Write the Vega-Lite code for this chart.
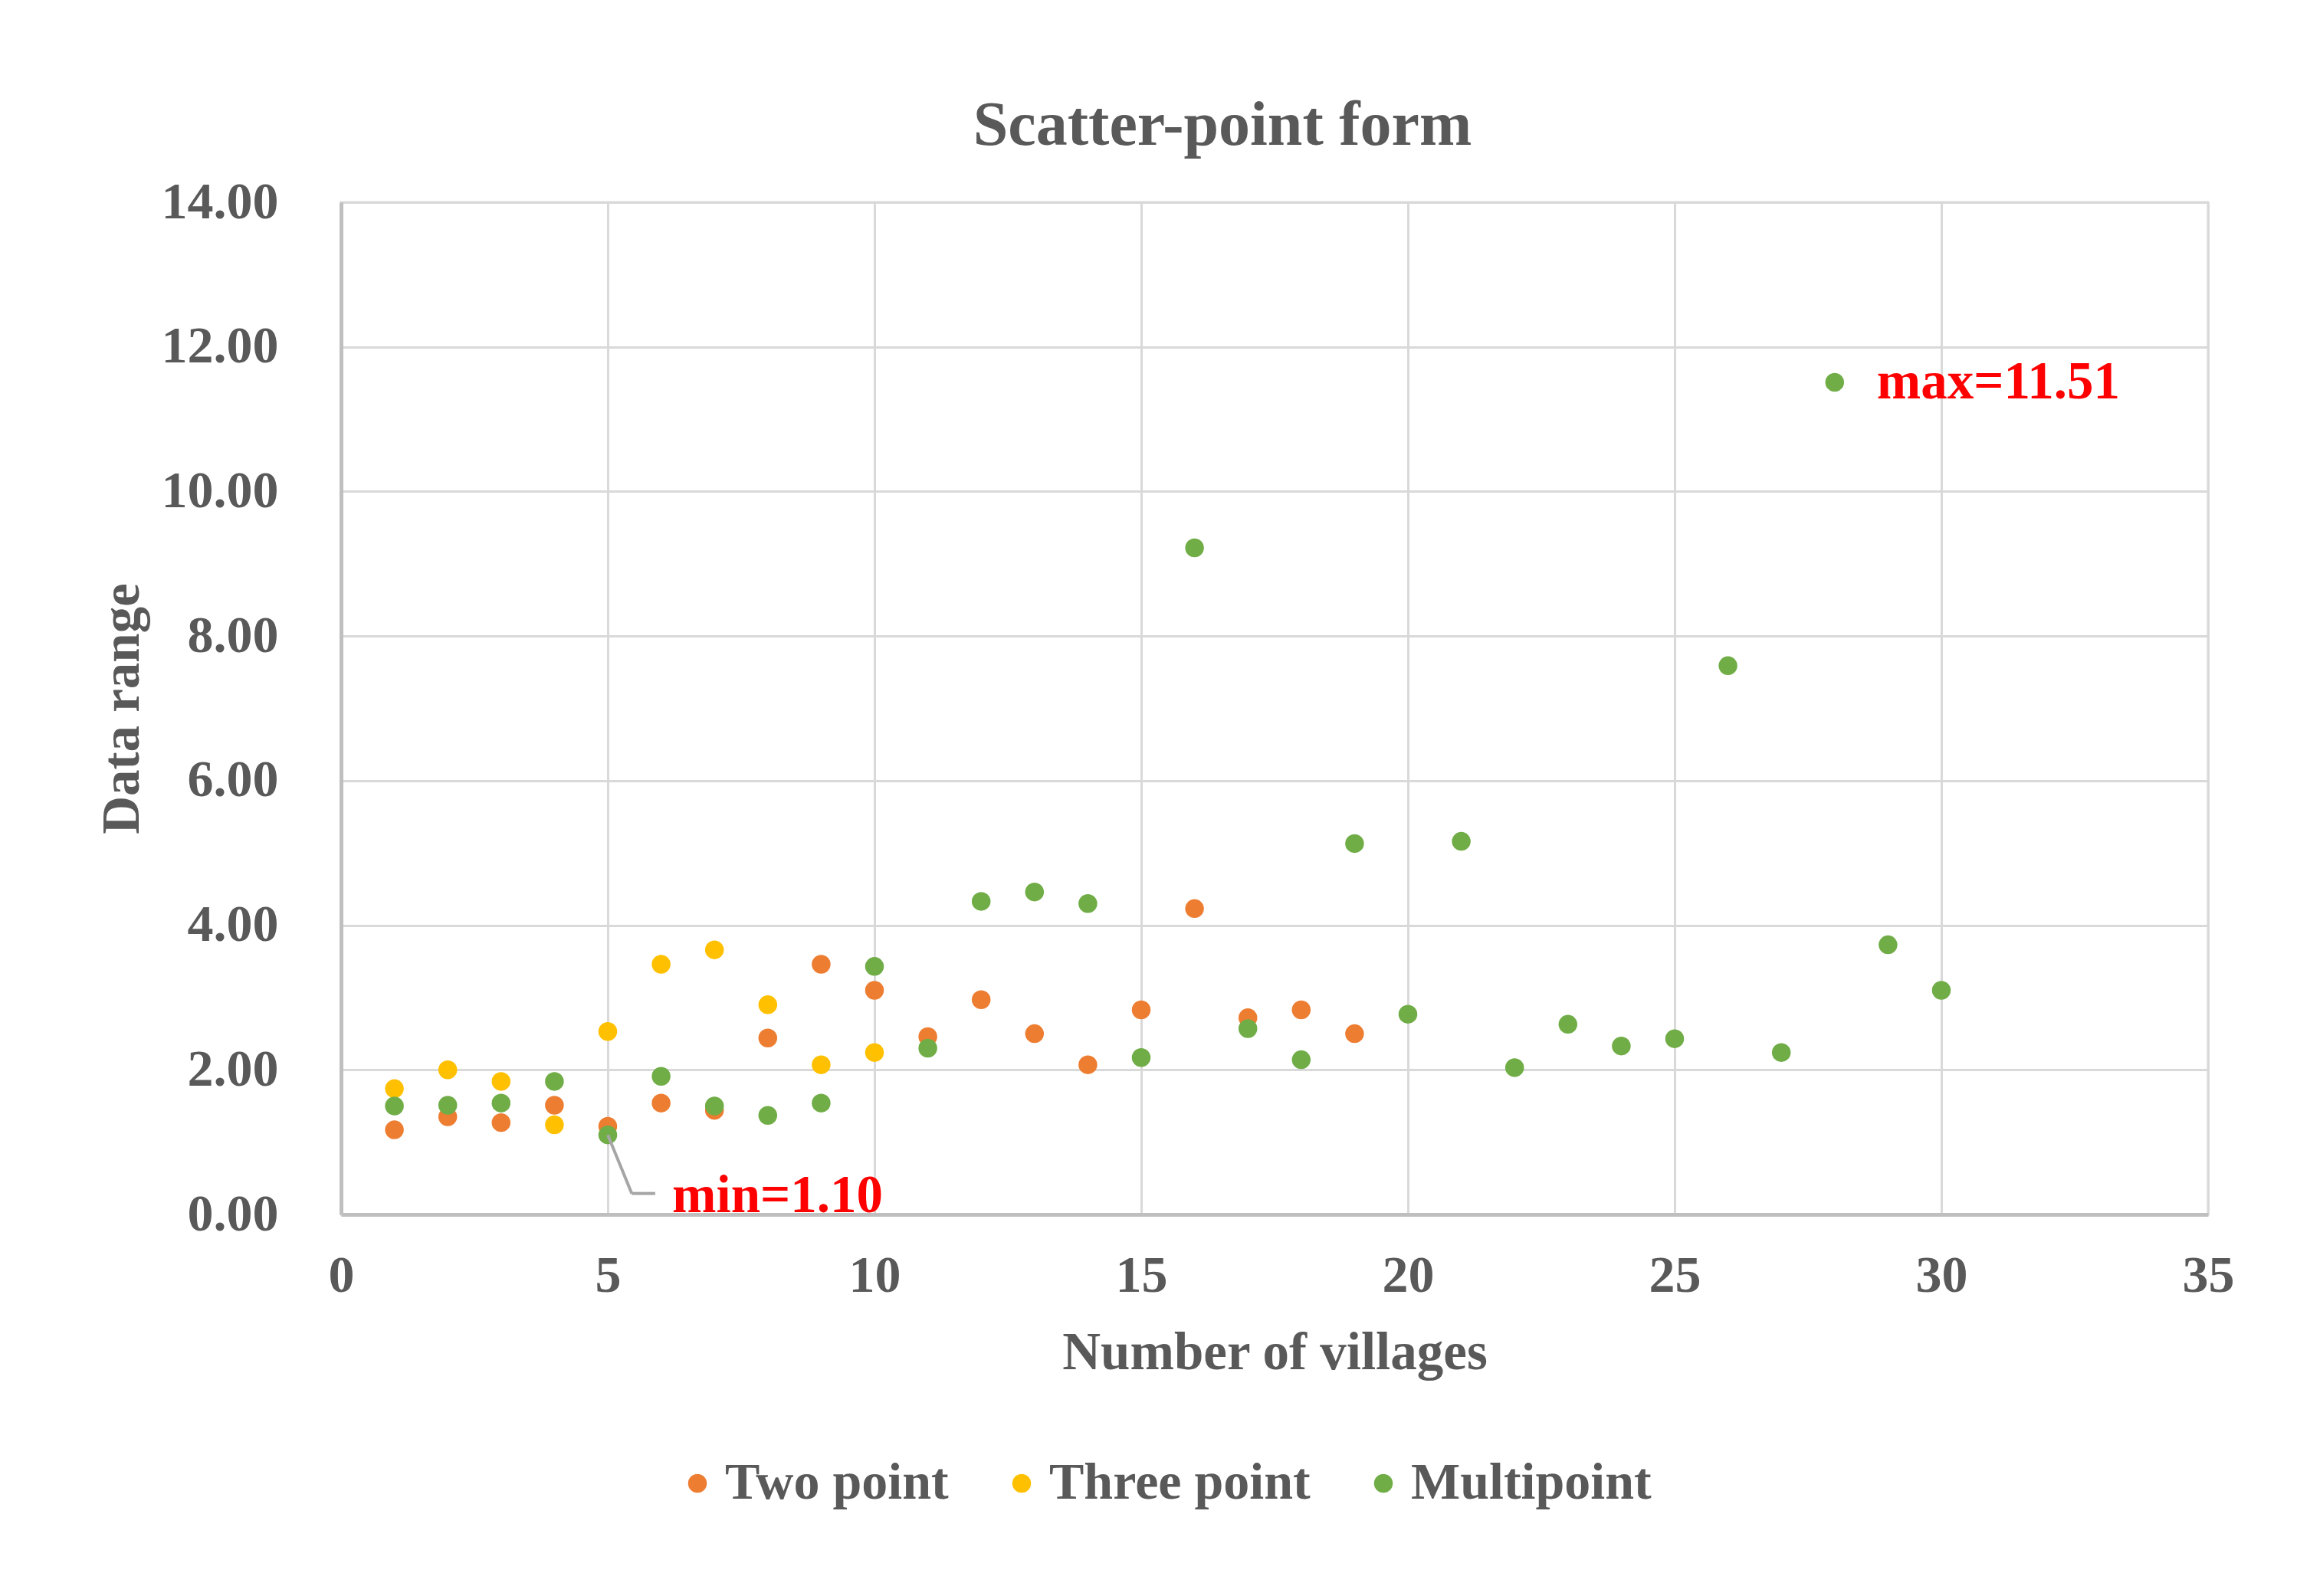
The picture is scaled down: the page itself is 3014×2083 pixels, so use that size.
{
  "$schema": "https://vega.github.io/schema/vega-lite/v6.json",
  "width": 2436,
  "height": 1321,
  "autosize": {"type": "none"},
  "padding": {"left": 445, "top": 264, "right": 133, "bottom": 498},
  "background": "white",
  "title": {
    "text": "Scatter-point form",
    "font": "Liberation Serif",
    "fontWeight": "bold",
    "fontSize": 82,
    "color": "#595959",
    "anchor": "middle",
    "frame": "group",
    "dx": -68,
    "baseline": "alphabetic",
    "offset": -41
  },
  "config": {
    "view": {"stroke": "#d9d9d9", "strokeWidth": 3},
    "font": "Liberation Serif"
  },
  "data": {
    "values": [
      {"villages": 1, "range": 1.17, "series": "Two point"},
      {"villages": 2, "range": 1.35, "series": "Two point"},
      {"villages": 3, "range": 1.27, "series": "Two point"},
      {"villages": 4, "range": 1.51, "series": "Two point"},
      {"villages": 5, "range": 1.22, "series": "Two point"},
      {"villages": 6, "range": 1.54, "series": "Two point"},
      {"villages": 7, "range": 1.44, "series": "Two point"},
      {"villages": 8, "range": 2.44, "series": "Two point"},
      {"villages": 9, "range": 3.46, "series": "Two point"},
      {"villages": 10, "range": 3.10, "series": "Two point"},
      {"villages": 11, "range": 2.46, "series": "Two point"},
      {"villages": 12, "range": 2.97, "series": "Two point"},
      {"villages": 13, "range": 2.50, "series": "Two point"},
      {"villages": 14, "range": 2.07, "series": "Two point"},
      {"villages": 15, "range": 2.83, "series": "Two point"},
      {"villages": 16, "range": 4.23, "series": "Two point"},
      {"villages": 17, "range": 2.72, "series": "Two point"},
      {"villages": 18, "range": 2.83, "series": "Two point"},
      {"villages": 19, "range": 2.50, "series": "Two point"},
      {"villages": 1, "range": 1.74, "series": "Three point"},
      {"villages": 2, "range": 2.00, "series": "Three point"},
      {"villages": 3, "range": 1.84, "series": "Three point"},
      {"villages": 4, "range": 1.24, "series": "Three point"},
      {"villages": 5, "range": 2.53, "series": "Three point"},
      {"villages": 6, "range": 3.46, "series": "Three point"},
      {"villages": 7, "range": 3.66, "series": "Three point"},
      {"villages": 8, "range": 2.90, "series": "Three point"},
      {"villages": 9, "range": 2.07, "series": "Three point"},
      {"villages": 10, "range": 2.24, "series": "Three point"},
      {"villages": 1, "range": 1.50, "series": "Multipoint"},
      {"villages": 2, "range": 1.51, "series": "Multipoint"},
      {"villages": 3, "range": 1.54, "series": "Multipoint"},
      {"villages": 4, "range": 1.84, "series": "Multipoint"},
      {"villages": 5, "range": 1.10, "series": "Multipoint"},
      {"villages": 6, "range": 1.91, "series": "Multipoint"},
      {"villages": 7, "range": 1.50, "series": "Multipoint"},
      {"villages": 8, "range": 1.37, "series": "Multipoint"},
      {"villages": 9, "range": 1.54, "series": "Multipoint"},
      {"villages": 10, "range": 3.43, "series": "Multipoint"},
      {"villages": 11, "range": 2.30, "series": "Multipoint"},
      {"villages": 12, "range": 4.33, "series": "Multipoint"},
      {"villages": 13, "range": 4.46, "series": "Multipoint"},
      {"villages": 14, "range": 4.30, "series": "Multipoint"},
      {"villages": 15, "range": 2.17, "series": "Multipoint"},
      {"villages": 16, "range": 9.22, "series": "Multipoint"},
      {"villages": 17, "range": 2.57, "series": "Multipoint"},
      {"villages": 18, "range": 2.14, "series": "Multipoint"},
      {"villages": 19, "range": 5.13, "series": "Multipoint"},
      {"villages": 20, "range": 2.77, "series": "Multipoint"},
      {"villages": 21, "range": 5.16, "series": "Multipoint"},
      {"villages": 22, "range": 2.03, "series": "Multipoint"},
      {"villages": 23, "range": 2.63, "series": "Multipoint"},
      {"villages": 24, "range": 2.33, "series": "Multipoint"},
      {"villages": 25, "range": 2.43, "series": "Multipoint"},
      {"villages": 26, "range": 7.59, "series": "Multipoint"},
      {"villages": 27, "range": 2.24, "series": "Multipoint"},
      {"villages": 28, "range": 11.51, "series": "Multipoint"},
      {"villages": 29, "range": 3.73, "series": "Multipoint"},
      {"villages": 30, "range": 3.10, "series": "Multipoint"}
    ]
  },
  "layer": [
    {
      "mark": {"type": "circle", "size": 600, "opacity": 1},
      "encoding": {
        "x": {
          "field": "villages",
          "type": "quantitative",
          "scale": {"domain": [0, 35], "nice": false, "zero": false},
          "axis": {
            "title": "Number of villages",
            "values": [0, 5, 10, 15, 20, 25, 30, 35],
            "format": "d",
            "grid": true,
            "gridColor": "#d9d9d9",
            "gridWidth": 3,
            "domainColor": "#bfbfbf",
            "domainWidth": 5,
            "ticks": false,
            "labelPadding": 46,
            "labelFont": "Liberation Serif",
            "labelFontWeight": "bold",
            "labelFontSize": 68,
            "labelColor": "#595959",
            "labelFlush": false,
            "labelOverlap": false,
            "titleFont": "Liberation Serif",
            "titleFontWeight": "bold",
            "titleFontSize": 69,
            "titleColor": "#595959",
            "titlePadding": 32
          }
        },
        "y": {
          "field": "range",
          "type": "quantitative",
          "scale": {"domain": [0, 14], "nice": false},
          "axis": {
            "title": "Data range",
            "values": [0, 2, 4, 6, 8, 10, 12, 14],
            "format": ".2f",
            "grid": true,
            "gridColor": "#d9d9d9",
            "gridWidth": 3,
            "domainColor": "#bfbfbf",
            "domainWidth": 5,
            "ticks": false,
            "labelPadding": 82,
            "labelFont": "Liberation Serif",
            "labelFontWeight": "bold",
            "labelFontSize": 68,
            "labelColor": "#595959",
            "labelFlush": false,
            "labelOverlap": false,
            "titleFont": "Liberation Serif",
            "titleFontWeight": "bold",
            "titleFontSize": 69,
            "titleColor": "#595959",
            "titlePadding": 51
          }
        },
        "color": {
          "field": "series",
          "type": "nominal",
          "sort": ["Two point", "Three point", "Multipoint"],
          "scale": {
            "domain": ["Two point", "Three point", "Multipoint"],
            "range": ["#ED7D31", "#FFC000", "#70AD47"]
          },
          "legend": {
            "title": null,
            "orient": "none",
            "direction": "horizontal",
            "legendX": 431,
            "legendY": 1638,
            "padding": 0,
            "symbolType": "circle",
            "symbolSize": 600,
            "symbolStrokeWidth": 0,
            "labelFont": "Liberation Serif",
            "labelFontWeight": "bold",
            "labelFontSize": 68,
            "labelColor": "#595959",
            "labelOffset": 2,
            "columnPadding": 61,
            "labelLimit": 1000
          }
        }
      }
    },
    {
      "data": {"values": [{}]},
      "mark": {"type": "rule", "color": "#a6a6a6", "strokeWidth": 4},
      "encoding": {
        "x": {"datum": 5},
        "y": {"datum": 1.10},
        "x2": {"datum": 5.45},
        "y2": {"datum": 0.29}
      }
    },
    {
      "data": {"values": [{}]},
      "mark": {"type": "rule", "color": "#a6a6a6", "strokeWidth": 4},
      "encoding": {
        "x": {"datum": 5.45},
        "y": {"datum": 0.29},
        "x2": {"datum": 5.89},
        "y2": {"datum": 0.29}
      }
    },
    {
      "data": {"values": [{"villages": 28, "range": 11.51, "label": "max=11.51"}]},
      "mark": {"type": "text", "color": "#ff0000", "font": "Liberation Serif", "fontWeight": "bold", "fontSize": 69, "align": "left", "baseline": "middle", "dx": 55},
      "encoding": {
        "x": {"field": "villages", "type": "quantitative"},
        "y": {"field": "range", "type": "quantitative"},
        "text": {"field": "label"}
      }
    },
    {
      "data": {"values": [{"villages": 5, "range": 1.10, "label": "min=1.10"}]},
      "mark": {"type": "text", "color": "#ff0000", "font": "Liberation Serif", "fontWeight": "bold", "fontSize": 69, "align": "left", "baseline": "alphabetic", "dx": 84, "dy": 101},
      "encoding": {
        "x": {"field": "villages", "type": "quantitative"},
        "y": {"field": "range", "type": "quantitative"},
        "text": {"field": "label"}
      }
    }
  ]
}
